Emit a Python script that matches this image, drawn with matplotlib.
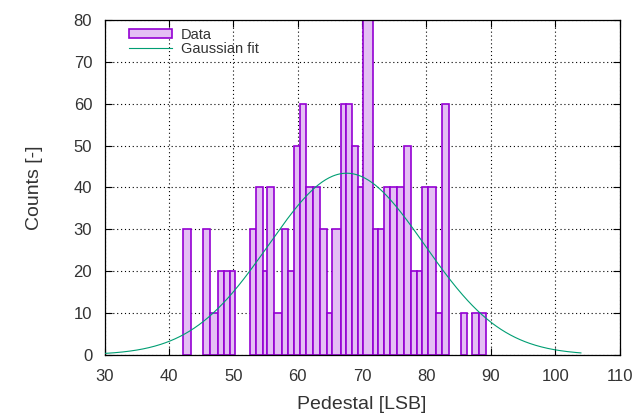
import numpy as np
import matplotlib
matplotlib.use("Agg")
import matplotlib.pyplot as plt

# ---- data ----
bin_edges = [42.14, 43.42, 45.27, 46.36, 47.55, 48.5, 49.4, 50.27, 52.58, 53.52,
             54.57, 55.19, 56.3, 57.52, 58.55, 59.48, 60.37, 61.25, 62.43, 63.47,
             64.51, 65.39, 66.65, 67.55, 68.45, 69.43, 70.2, 71.66, 72.53, 73.4,
             74.3, 75.47, 76.55, 77.61, 78.5, 79.27, 80.3, 81.5, 82.43, 83.52,
             85.3, 86.3, 87.15, 88.15, 89.2]
counts = [30, 0, 30, 10, 20, 20, 20, 0, 30, 40,
          20, 40, 10, 30, 20, 50, 60, 40, 40, 30,
          10, 30, 60, 60, 50, 40, 80, 30, 30, 40,
          40, 40, 50, 20, 20, 40, 40, 10, 60, 0,
          10, 0, 10, 10]
fit_amplitude = 43.4
fit_mean = 67.6
fit_sigma = 12.1
fit_range = (30.0, 104.0)
x_ticks = [30, 40, 50, 60, 70, 80, 90, 100, 110]
y_ticks = [0, 10, 20, 30, 40, 50, 60, 70, 80]

plt.rcParams['font.family'] = ['Liberation Sans', 'DejaVu Sans']

fig = plt.figure(figsize=(6.42, 4.17), dpi=100)
ax = fig.add_axes([0.163, 0.149, 0.802, 0.803])

edges = np.array(bin_edges)
cnt = np.array(counts)
left = edges[:-1]
width = np.diff(edges)
mask = cnt > 0
bars = ax.bar(left[mask], cnt[mask], width=width[mask], align='edge',
              facecolor='#e4bff4', edgecolor='#9400d3', linewidth=1.2,
              label='Data', zorder=2)

xs = np.linspace(fit_range[0], fit_range[1], 400)
ys = fit_amplitude * np.exp(-0.5 * ((xs - fit_mean) / fit_sigma) ** 2)
line, = ax.plot(xs, ys, color='#009e73', linewidth=0.8, label='Gaussian fit', zorder=3)

ax.set_xlim(30, 110)
ax.set_ylim(0, 80)
ax.set_xticks(x_ticks)
ax.set_yticks(y_ticks)
ax.tick_params(direction='in', top=True, right=True, length=5, width=0.8,
               labelsize=12, labelcolor='#333333')
ax.tick_params(axis='x', pad=10)
ax.tick_params(axis='y', pad=9)
ax.grid(True, color='black', linestyle=(0, (1, 2.5)), linewidth=0.8, zorder=1)
ax.set_axisbelow(True)
for s in ax.spines.values():
    s.set_linewidth(0.9)

ax.set_xlabel('Pedestal [LSB]', fontsize=14, color='#333333', labelpad=9)
ax.set_ylabel('Counts [-]', fontsize=14, color='#333333', labelpad=22)

leg = ax.legend([bars, line], ['Data', 'Gaussian fit'], loc='upper left',
                frameon=False, fontsize=10.5,
                handlelength=3.0, handleheight=0.6, borderaxespad=0.0,
                labelspacing=0.0, handletextpad=0.6,
                bbox_to_anchor=(0.035, 0.995))
for t in leg.get_texts():
    t.set_color('#333333')

fig.savefig('out.png', dpi=100)
